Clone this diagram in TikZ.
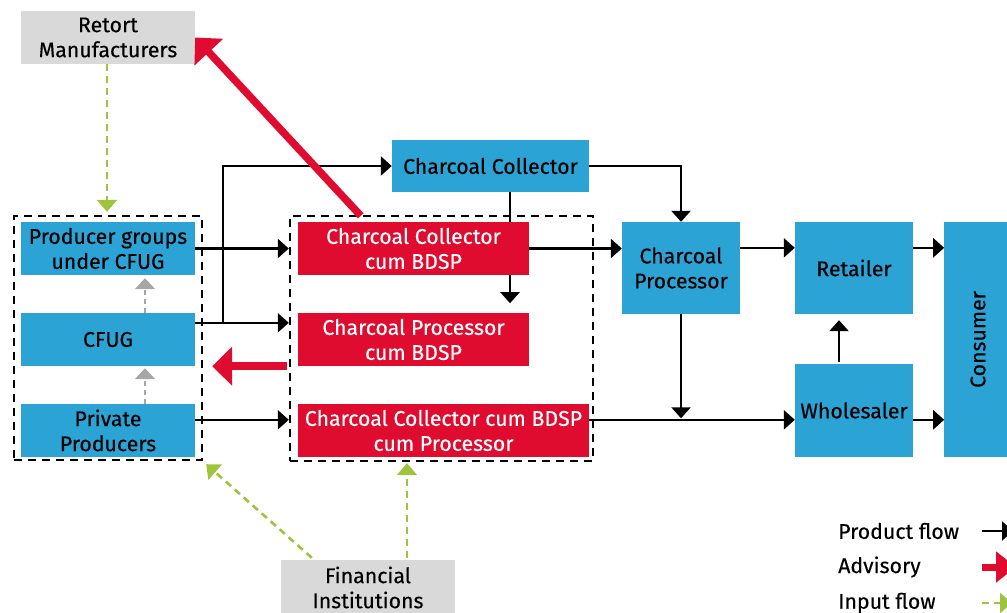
\documentclass[tikz,border=0pt]{standalone}
\usepackage{fontspec}
\setmainfont{Fira Sans}[UprightFeatures={FakeBold=0.3}]
\usetikzlibrary{arrows.meta,calc}
\definecolor{cblue}{HTML}{2CA3D5}
\definecolor{cred}{HTML}{E00C30}
\definecolor{cgreen}{HTML}{9DC43C}
\definecolor{cgray}{HTML}{D9D9D9}
\definecolor{cdgray}{HTML}{A6A6A6}
\begin{document}
\begin{tikzpicture}[x=1pt,y=-1pt,
 txt/.style={font=\fontsize{21.3}{25}\selectfont},
 box/.style={txt, inner sep=0pt, align=center},
 bluebox/.style={box, fill=cblue, text=black},
 redbox/.style={box, fill=cred, text=white},
 graybox/.style={box, fill=cgray, text=black},
 grp/.style={draw=black, dash pattern=on 8pt off 6pt, line width=2.4pt, inner sep=0pt},
 flow/.style={draw=black, line width=2.4pt, -{Triangle[length=11pt,width=19pt]}},
 adv/.style={draw=cred, line width=7.5pt, -{Triangle[length=20pt,width=38pt]}},
 inp/.style={draw=cgreen, line width=2.6pt, dash pattern=on 7pt off 5pt, -{Triangle[length=12pt,width=20pt]}},
 sub/.style={draw=cdgray, line width=2.4pt, dash pattern=on 5pt off 4pt, -{Triangle[length=11pt,width=20pt]}}]
\useasboundingbox (0,0) rectangle (1007,613);
\clip (0,0) rectangle (1007,613);

% group frames
\node[grp, minimum width=188pt, minimum height=244pt] (lgrp) at (108,338) {};
\node[grp, minimum width=303pt, minimum height=245pt] (mgrp) at (441.5,338.5) {};

% boxes
\node[graybox, minimum width=174pt, minimum height=53pt] (rm) at (108,37.5) {Retort\\Manufacturers};
\node[bluebox, minimum width=174pt, minimum height=53pt] (pg) at (108,248.5) {Producer groups\\under CFUG};
\node[bluebox, minimum width=174pt, minimum height=53pt] (cfug) at (108,339.5) {CFUG};
\node[bluebox, minimum width=174pt, minimum height=53pt] (pp) at (108,430.5) {Private\\Producers};
\node[redbox, minimum width=231pt, minimum height=53pt] (ccb) at (413.5,248.5) {Charcoal Collector\\cum BDSP};
\node[redbox, minimum width=231pt, minimum height=53pt] (cpb) at (413.5,339.5) {Charcoal Processor\\cum BDSP};
\node[redbox, minimum width=291pt, minimum height=53pt] (ccbp) at (443.5,430.5) {Charcoal Collector cum BDSP\\cum Processor};
\node[bluebox, minimum width=197pt, minimum height=52pt] (cc) at (490.5,166) {Charcoal Collector};
\node[bluebox, minimum width=118pt, minimum height=92pt] (cp) at (681,268) {Charcoal\\Processor};
\node[bluebox, minimum width=118pt, minimum height=92pt] (ret) at (854,268) {Retailer};
\node[bluebox, minimum width=118pt, minimum height=93pt] (whl) at (854,410.5) {Wholesaler};
\node[bluebox, minimum width=235pt, minimum height=68pt, rotate=90] (con) at (978,339.5) {Consumer};
\node[graybox, minimum width=174pt, minimum height=55pt] (fi) at (368,587.5) {Financial\\Institutions};

% product flow
\coordinate (j1) at ($(cfug.north east)+(0,10)$);
\coordinate (j1v) at ($(j1)+(28,0)$);
\coordinate (j3) at ($(pp.north east)+(0,16)$);
\coordinate (j2) at ($(ccbp.north east)+(0,16)$);
\draw[flow] (pg.east) -- (pg.east -| mgrp.west);
\draw[flow] (j1) -- (j1 -| mgrp.west);
\draw[flow] (j1v) |- (cc.west);
\draw[flow] (j3) -- (j3 -| mgrp.west);
\draw[draw=black, line width=2.4pt] ($(cc.south)+(19.5,0)$) -- ($(ccb.north)+(96.5,0)$);
\draw[flow] ($(ccb.south)+(96.5,0)$) -- ($(ccb.south)+(96.5,28)$);
\draw[flow] (cc.east) -| (cp.north);
\draw[flow] (ccb.east) -- (ccb.east -| cp.west);
\draw[flow] ($(cp.north east)+(0,26)$) -- ($(ret.north west)+(0,26)$);
\draw[flow] ($(ret.north east)+(0,26)$) -- ($(ret.north east)+(31,26)$);
\draw[flow] (j2) -- (j2 -| whl.west);
\draw[flow, shorten >=1.5pt] (cp.south) -- (cp.south |- j2);
\draw[flow, shorten >=6pt, shorten <=2pt] ($(whl.north)+(-15,0)$) -- ($(ret.south)+(-15,0)$);
\draw[flow] ($(whl.north east)+(0,56)$) -- ($(whl.north east)+(31,56)$);

% sub flows
\draw[sub, shorten >=3pt] ($(cfug.north)+(37,0)$) -- ($(pg.south)+(37,0)$);
\draw[sub, shorten >=2pt] ($(pp.north)+(37,0)$) -- ($(cfug.south)+(37,0)$);

% advisory
\coordinate (a1) at ($(ccb.north west)+(63,-6)$);
\draw[adv] (a1) -- (rm.east);
\draw[adv] ($(cpb.south west)+(-11,0)$) -- ($(cfug.south east)+(17,0)$);

% input
\draw[inp] ($(rm.south)+(-1,0)$) -- ($(lgrp.north)+(-1,-3)$);
\draw[inp] ($(fi.north west)+(31,-2)$) -- ($(lgrp.south east)+(3,3)$);
\draw[inp] ($(fi.north)+(39,-2)$) -- ($(mgrp.south)+(-34.5,1)$);

% legend
\node[txt, anchor=west, inner sep=0pt] (l1) at (838,531) {Product flow};
\node[txt, anchor=west, inner sep=0pt] (l2) at (838,567) {Advisory};
\node[txt, anchor=west, inner sep=0pt] (l3) at (838,603) {Input flow};
\coordinate (l1a) at (982,531); \coordinate (l1b) at (1013,531);
\coordinate (l2a) at (982,567); \coordinate (l2b) at (1016,567);
\coordinate (l3a) at (982,603); \coordinate (l3b) at (1012,603);
\draw[flow] (l1a) -- (l1b);
\draw[adv, line width=7pt, -{Triangle[length=20pt,width=30pt]}] (l2a) -- (l2b);
\draw[inp] (l3a) -- (l3b);
\end{tikzpicture}
\end{document}
